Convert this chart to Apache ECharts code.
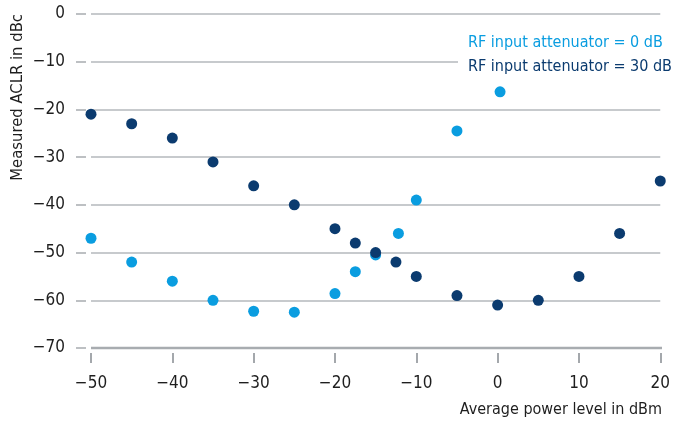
<!DOCTYPE html>
<html>
<head>
<meta charset="utf-8">
<script src="https://cdn.jsdelivr.net/npm/echarts@6/dist/echarts.min.js"></script>
<style>html,body{margin:0;padding:0;background:#fff}#c{width:673px;height:421px}</style>
</head>
<body>
<div id="c"></div>
<script>
var seriesNames = ['RF input attenuator = 0 dB', 'RF input attenuator = 30 dB'];
var att0X = [-50, -45, -40, -35, -30, -25, -20, -17.5, -15, -12.2, -10, -5, 0.3];
var att0Y = [-47, -52, -56, -60, -62.3, -62.5, -58.6, -54, -50.5, -46, -39, -24.5, -16.3];
var att30X = [-50, -45, -40, -35, -30, -25, -20, -17.5, -15, -12.5, -10, -5, 0, 5, 10, 15, 20];
var att30Y = [-21, -23, -26, -31, -36, -40, -45, -48, -50, -52, -55, -59, -61, -60, -55, -46, -35];
var xTicks = [-50, -40, -30, -20, -10, 0, 10, 20];
var yTicks = [0, -10, -20, -30, -40, -50, -60, -70];
var xTitle = 'Average power level in dBm';
var yTitle = 'Measured ACLR in dBc';

var FONT = '"DejaVu Sans Condensed", "Liberation Sans Narrow", sans-serif';
var C0 = '#0a9de0', C30 = '#0b3b6f';
var TXT = '#1e1e1e';
function pairs(xs, ys){ return xs.map(function(x,i){ return [x, ys[i]]; }); }
function fmt(v){ return v < 0 ? '\u2212' + Math.abs(v) : String(v); }

var chart = echarts.init(document.getElementById('c'), null, {renderer: 'canvas'});
chart.setOption({
  animation: false,
  backgroundColor: '#fff',
  grid: {left: 91, right: 11, top: 14, bottom: 73, containLabel: false},
  xAxis: {
    type: 'value', min: -50, max: 20, interval: 10, offset: 5, position: 'bottom',
    axisLine: {show: false, onZero: false},
    axisTick: {show: true, length: 10, lineStyle: {color: '#a4a8ac', width: 2}},
    splitLine: {show: false},
    axisLabel: {margin: 22, fontFamily: FONT, fontSize: 17, color: TXT, formatter: fmt}
  },
  yAxis: {
    type: 'value', min: -70, max: 0, interval: 10, offset: 5, position: 'left',
    axisLine: {show: false, onZero: false},
    axisTick: {show: true, length: 10, lineStyle: {color: '#a8acb0', width: 1.5}},
    splitLine: {show: true, lineStyle: {color: '#b5b9bd', width: 1.5}},
    axisLabel: {margin: 21, fontFamily: FONT, fontSize: 17, color: TXT, formatter: fmt}
  },
  legend: {show: false, data: seriesNames},
  graphic: [
    {type: 'line', z: 1, silent: true, shape: {x1: 91, y1: 348, x2: 662, y2: 348}, style: {stroke: '#a8acb0', lineWidth: 2.5}},
    {type: 'rect', z: 1, silent: true, shape: {x: 458, y: 30, width: 215, height: 50}, style: {fill: '#fff'}},
    {type: 'text', z: 5, left: 468, top: 35, style: {text: seriesNames[0], font: '16px ' + FONT, fill: C0}},
    {type: 'text', z: 5, left: 468, top: 59, style: {text: seriesNames[1], font: '16px ' + FONT, fill: C30}},
    {type: 'text', z: 5, left: 9, top: 14, rotation: Math.PI / 2,
     style: {text: yTitle, font: '16.5px ' + FONT, fill: TXT}},
    {type: 'text', z: 5, right: 11, top: 402,
     style: {text: xTitle, font: '16px ' + FONT, fill: TXT}}
  ],
  series: [{
    name: seriesNames[0], type: 'scatter', symbolSize: 11, z: 3,
    itemStyle: {color: C0, opacity: 1},
    data: pairs(att0X, att0Y)
  }, {
    name: seriesNames[1], type: 'scatter', symbolSize: 11, z: 4,
    itemStyle: {color: C30, opacity: 1},
    data: pairs(att30X, att30Y)
  }]
});
</script>
</body>
</html>
